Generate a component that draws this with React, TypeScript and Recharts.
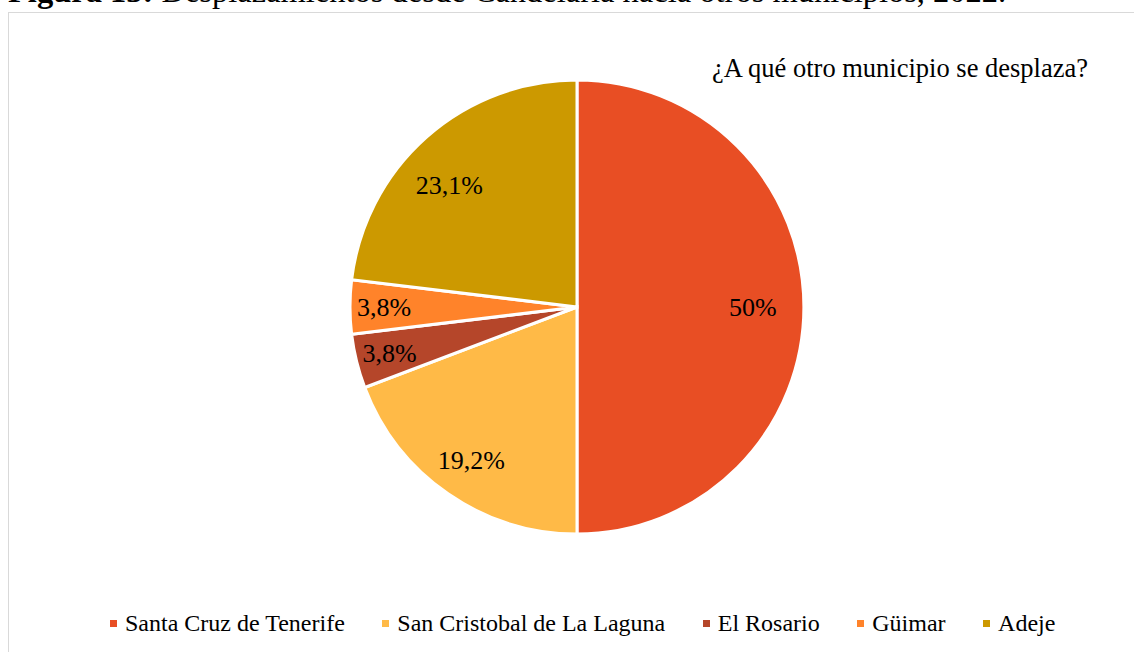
import React from "react";
import { PieChart, Pie, Cell } from "recharts";

const categories = [
  "Santa Cruz de Tenerife",
  "San Cristobal de La Laguna",
  "El Rosario",
  "Güimar",
  "Adeje",
];
const values = [13, 5, 1, 1, 6];
const colors = ["#E84E24", "#FFBA47", "#B5462A", "#FF832A", "#CC9900"];
const chartTitle = "¿A qué otro municipio se desplaza?";
const captionBold = "Figura 13:";
const captionText = " Desplazamientos desde Candelaria hacia otros municipios, 2022.";

const data = categories.map((name, i) => ({ name, value: values[i] }));

const FONT = '"Liberation Serif", "Times New Roman", serif';
const RAD = Math.PI / 180;

function fmt(p: number) {
  const v = Math.round(p * 1000) / 10;
  return (Number.isInteger(v) ? String(v) : v.toFixed(1).replace(".", ",")) + "%";
}

const renderLabel = (props: any) => {
  const { cx, cy, midAngle, outerRadius, percent } = props;
  const f = percent > 0.2 ? 0.775 : percent > 0.1 ? 0.82 : 0.85;
  const shift = percent > 0.2 && percent < 0.4 ? 5 : 0;
  const a = (midAngle + shift) * RAD;
  const r = outerRadius * f;
  const x = cx + r * Math.cos(-a);
  const y = cy + r * Math.sin(-a);
  return (
    <text
      x={x}
      y={y}
      textAnchor="middle"
      dominantBaseline="central"
      fontFamily={FONT}
      fontSize={26}
      fill="#000"
    >
      {fmt(percent)}
    </text>
  );
};

export default function App() {
  return (
    <div
      style={{
        position: "absolute",
        left: 0,
        top: 0,
        width: 1134,
        height: 652,
        overflow: "hidden",
        background: "#fff",
        fontFamily: FONT,
      }}
    >
      <div
        style={{
          position: "absolute",
          left: 8,
          top: -27,
          fontSize: 32.5,
          whiteSpace: "nowrap",
          color: "#000",
          lineHeight: "36px",
        }}
      >
        <b>{captionBold}</b>
        {captionText}
      </div>
      <div
        style={{
          position: "absolute",
          left: 8,
          top: 12,
          width: 1200,
          height: 700,
          border: "1px solid #d9d9d9",
          boxSizing: "border-box",
        }}
      />
      <div
        style={{
          position: "absolute",
          left: 712,
          top: 52,
          fontSize: 26.5,
          whiteSpace: "nowrap",
          color: "#000",
          lineHeight: "32px",
        }}
      >
        {chartTitle}
      </div>
      <div style={{ position: "absolute", left: 0, top: 0 }}>
        <PieChart width={1134} height={652} margin={{ top: 0, right: 0, bottom: 0, left: 0 }}>
          <Pie
            data={data}
            dataKey="value"
            nameKey="name"
            cx={577}
            cy={307}
            outerRadius={227}
            startAngle={90}
            endAngle={-270}
            stroke="#fff"
            strokeWidth={3}
            label={renderLabel}
            labelLine={false}
            isAnimationActive={false}
          >
            {data.map((d, i) => (
              <Cell key={d.name} fill={colors[i]} />
            ))}
          </Pie>
        </PieChart>
      </div>
      <div
        style={{
          position: "absolute",
          left: 110,
          top: 608,
          display: "flex",
          alignItems: "center",
          whiteSpace: "nowrap",
          fontSize: 24,
          lineHeight: "30px",
          color: "#000",
        }}
      >
        {categories.map((c, i) => (
          <div
            key={c}
            style={{
              display: "flex",
              alignItems: "center",
              marginRight: i < categories.length - 1 ? 37.5 : 0,
            }}
          >
            <span
              style={{
                display: "inline-block",
                width: 7,
                height: 7,
                background: colors[i],
                marginRight: 8,
              }}
            />
            <span>{c}</span>
          </div>
        ))}
      </div>
    </div>
  );
}
